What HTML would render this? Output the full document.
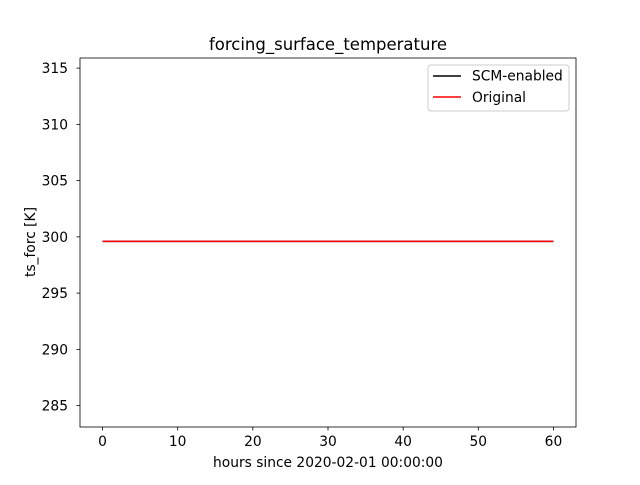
<!DOCTYPE html>
<html><head><meta charset="utf-8"><style>
body{margin:0;background:#fff}
svg text{font-family:"DejaVu Sans","Liberation Sans",sans-serif;fill:#000}
</style></head><body>
<svg id="chart" width="640" height="480">
<text x="328" y="50" font-size="16.5" text-anchor="middle">forcing_surface_temperature</text>
<g id="xt"></g>
<g id="yt"></g>
<g id="series"></g>
<rect x="80" y="58" width="496" height="369" fill="none" stroke="#000" stroke-width="0.8"/>
<text x="328" y="467" font-size="13.8" text-anchor="middle">hours since 2020-02-01 00:00:00</text>
<text transform="translate(35,242) rotate(-90)" font-size="13.8" text-anchor="middle">ts_forc [K]</text>
<g>
<rect x="428" y="65" width="141" height="46" rx="3" fill="#fff" stroke="#ccc"/>
<line x1="433" y1="76" x2="461" y2="76" stroke="#000" stroke-width="1.5"/>
<text x="472" y="80.5" font-size="13.8">SCM-enabled</text>
<line x1="433" y1="97" x2="461" y2="97" stroke="red" stroke-width="1.5"/>
<text x="472" y="102" font-size="13.8">Original</text>
</g>
</svg>
<script>
const xTicks=[0,10,20,30,40,50,60];
const yTicks=[285,290,295,300,305,310,315];
const times=[0,60];
const scmValues=[299.6,299.6];
const origValues=[299.6,299.6];
const NS="http://www.w3.org/2000/svg";
function sx(v){return 80+(v+3)/66*496;}
function sy(v){return 427-(v-283.1)/(315.9-283.1)*369;}
function mk(t,a,p){const e=document.createElementNS(NS,t);for(const k in a)e.setAttribute(k,a[k]);p.appendChild(e);return e;}
const xt=document.getElementById('xt'),yt=document.getElementById('yt'),sg=document.getElementById('series');
xTicks.forEach(v=>{
 const l=mk('line',{x1:sx(v),x2:sx(v),y1:427,y2:430.5,stroke:'#000','stroke-width':0.8},xt);
 
 
 const t=mk('text',{x:sx(v),y:446,'font-size':13.8,'text-anchor':'middle'},xt);t.textContent=v;
 
 
});
yTicks.forEach(v=>{
 const l=mk('line',{x1:76.5,x2:80,y1:sy(v),y2:sy(v),stroke:'#000','stroke-width':0.8},yt);
 
 
 const t=mk('text',{x:68,y:sy(v)+5,'font-size':13.8,'text-anchor':'end'},yt);t.textContent=v;
 
 
});
function line(vals,c,name){
 const p=mk('polyline',{points:times.map((t,i)=>sx(t)+','+sy(vals[i])).join(' '),fill:'none',stroke:c,'stroke-width':1.5},sg);
 
 
}
line(scmValues,'#000','scm-enabled-line');
line(origValues,'red','original-line');
</script>
</body></html>
